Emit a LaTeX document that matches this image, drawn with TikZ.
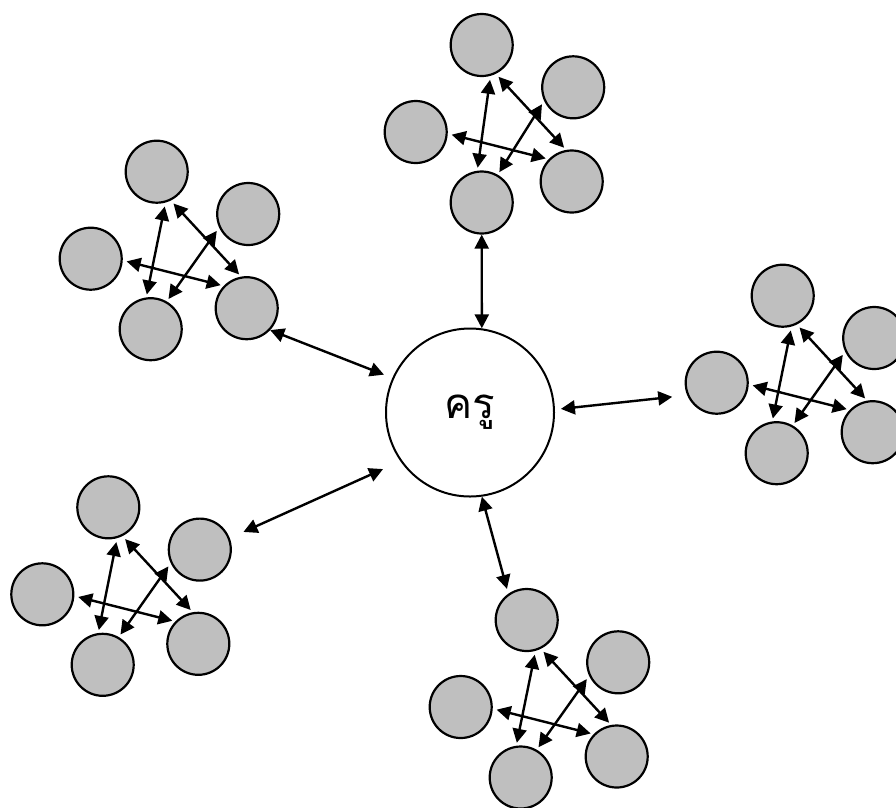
\documentclass[tikz,border=0pt]{standalone}
\usepackage{fontspec}
\newfontfamily\thaifont[Script=Thai]{Loma}
\usetikzlibrary{arrows.meta}
\tikzset{ s/.style = { circle % student
        , draw
        , line width = 2.2pt
        , fill = gray!50
        , minimum size = 62pt
        }
        , t/.style = { circle % teacher
        , draw
        , line width = 2pt
        , fill = white
        , minimum size = 168pt
        , font = \thaifont\fontsize{42}{50}\selectfont
        }
        }

\begin{document}
\begin{tikzpicture}[x=1pt, y=-1pt,
        edge_style/.style={draw=black, line width=2.4pt, {Triangle[length=14pt,width=14pt]}-{Triangle[length=14pt,width=14pt]}},
        link_style/.style={edge_style, shorten <=4pt, shorten >=3pt}]
        \useasboundingbox (0,0) rectangle (896,807);

        \node [t] (ctr) at (470,412.5) {ครู};

        % groups of five students
        \foreach \c/\x/\y/\ex in {t/481.7/45/0, ul/156.7/171.7/-6, r/782.7/295.7/-6, ll/108.3/507.3/-5.6, b/526.7/620/-6}
        {
            \node [s] (\c a) at (\x,\y) {};
            \node [s] (\c b) at (\x+91.5,\y+42.3) {};
            \node [s] (\c c) at (\x-66,\y+87) {};
            \node [s] (\c d) at (\x+90,\y+136.5) {};
            \node [s] (\c e) at (\x+\ex,\y+157.5) {};
            \draw [link_style] (\c a.-74) -- (\c e.98);
            \draw [link_style] (\c a.-64) -- (\c d.100);
            \draw [link_style] (\c b.205) -- (\c e.60);
            \draw [link_style] (\c c.-3) -- (\c d.136);
        }

        \draw [edge_style] (te.-90) -- (ctr.82);
        \draw [edge_style, shorten >=9pt] (uld.-43) -- (ctr.156);
        \draw [edge_style, shorten <=6pt, shorten >=15pt] (ctr.2) -- (rc.203);
        \draw [edge_style, shorten <=19pt, shorten >=15pt] (ctr.215) -- (llb.21);
        \draw [edge_style, shorten >=5pt] (ctr.-82) -- (ba.125);
\end{tikzpicture}
\end{document}
